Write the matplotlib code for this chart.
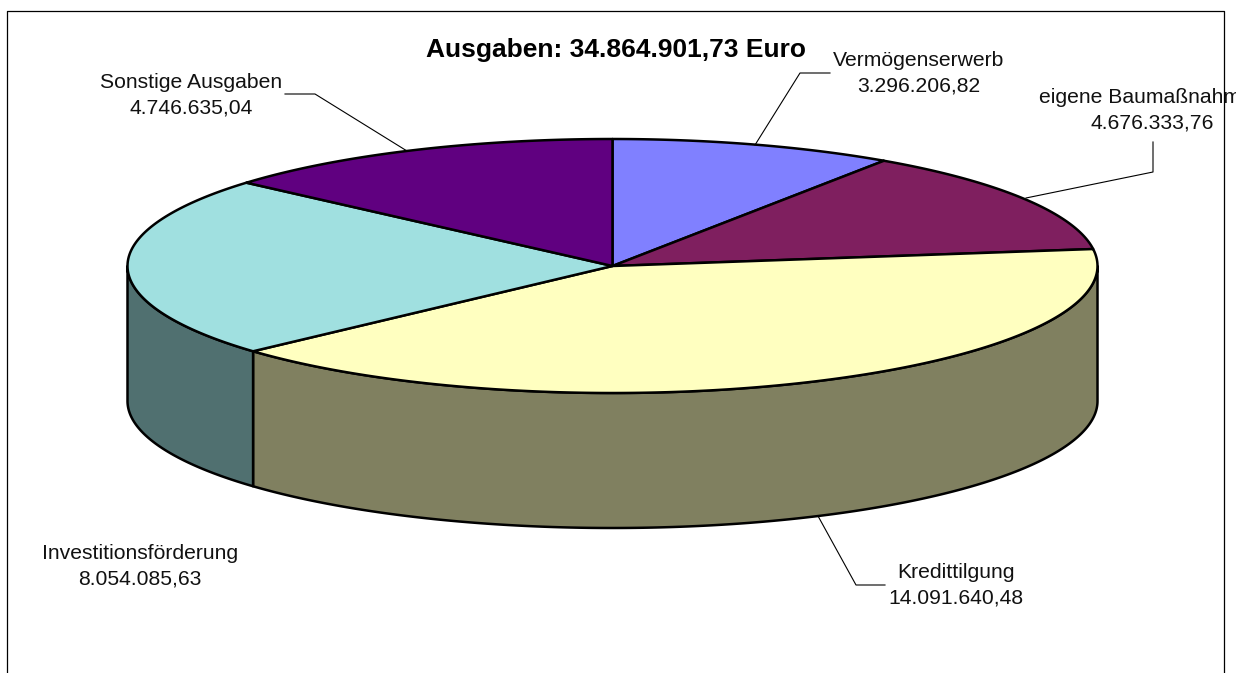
import numpy as np
import matplotlib
matplotlib.use('Agg')
import matplotlib.pyplot as plt
from matplotlib.patches import Rectangle

plt.rcParams['font.family'] = ['Liberation Sans', 'DejaVu Sans']

titulo = 'Ausgaben: 34.864.901,73 Euro'
nombres = ['Vermögenserwerb', 'eigene Baumaßnahmen', 'Kredittilgung',
           'Investitionsförderung', 'Sonstige Ausgaben']
valores = [3296206.82, 4676333.76, 14091640.48, 8054085.63, 4746635.04]
etiquetas = ['3.296.206,82', '4.676.333,76', '14.091.640,48', '8.054.085,63', '4.746.635,04']
color_top = ['#8080FF', '#7F1F5F', '#FFFFC0', '#A0E0E0', '#600080']
color_lado = ['#606099', '#5F1747', '#808060', '#507070', '#480060']

# geometria del pastel en pixeles
cx, cy = 612.5, 266
rx, ry = 485, 127
alto = 135

# posicion de cada etiqueta (centro) y su linea guia
pos_texto = [(919, 73), (1152, 110), (956, 585), (140, 566), (191, 95)]
guias = [[(755, 145), (800, 73), (830, 73)],
         [(1026, 198), (1153, 172), (1153, 142)],
         [(818, 516), (856, 585), (885, 585)],
         None,
         [(407, 151), (315, 94), (285, 94)]]


def elipse(a, b, dy=0.0):
    # angulos en grados, desde arriba y en sentido horario
    t = np.radians(np.linspace(a, b, max(int(abs(b - a)) * 2, 2)))
    return np.column_stack([cx + rx * np.sin(t), cy - ry * np.cos(t) + dy])


fig = plt.figure(figsize=(12.38, 6.73), dpi=100)
ax = fig.add_axes([0, 0, 1, 1])
ax.set_xlim(0, 1238)
ax.set_ylim(673, 0)
ax.axis('off')

# marco (sin borde inferior, queda cortado)
ax.plot([7, 7, 1223.5, 1223.5], [673, 10.5, 10.5, 673], color='black', lw=0.9)

#angulos acumulados
acum = np.cumsum([0] + valores) / sum(valores) * 360

# caras laterales visibles (mitad de abajo)
for i in range(len(valores)):
    a = max(acum[i], 90)
    b = min(acum[i + 1], 270)
    if b <= a:
        continue
    arriba = elipse(a, b)
    abajo = elipse(b, a, alto)
    ax.fill(*np.vstack([arriba, abajo]).T, facecolor=color_lado[i],
            edgecolor='black', lw=1.8, joinstyle='round')

# caras superiores
for i in range(len(valores)):
    borde = elipse(acum[i], acum[i + 1])
    ax.fill(*np.vstack([[(cx, cy)], borde]).T, facecolor=color_top[i],
            edgecolor='black', lw=1.8, joinstyle='round')

for g in guias:
    if g is not None:
        x, y = zip(*g)
        ax.plot(x, y, color='black', lw=0.8)

ax.text(616, 50, titulo, fontsize=19, fontweight='bold', ha='center', va='center')

# la etiqueta de Baumassnahme queda cortada por el borde del grafico
recorte = Rectangle((0, 0), 1236, 673, transform=ax.transData)
for i in range(len(nombres)):
    t = ax.text(pos_texto[i][0], pos_texto[i][1], nombres[i] + '\n' + etiquetas[i],
                fontsize=15.2, ha='center', va='center', linespacing=1.45,
                color='#111111')
    t.set_clip_path(recorte)
    t.set_clip_on(True)

fig.savefig('out.png', dpi=100)
